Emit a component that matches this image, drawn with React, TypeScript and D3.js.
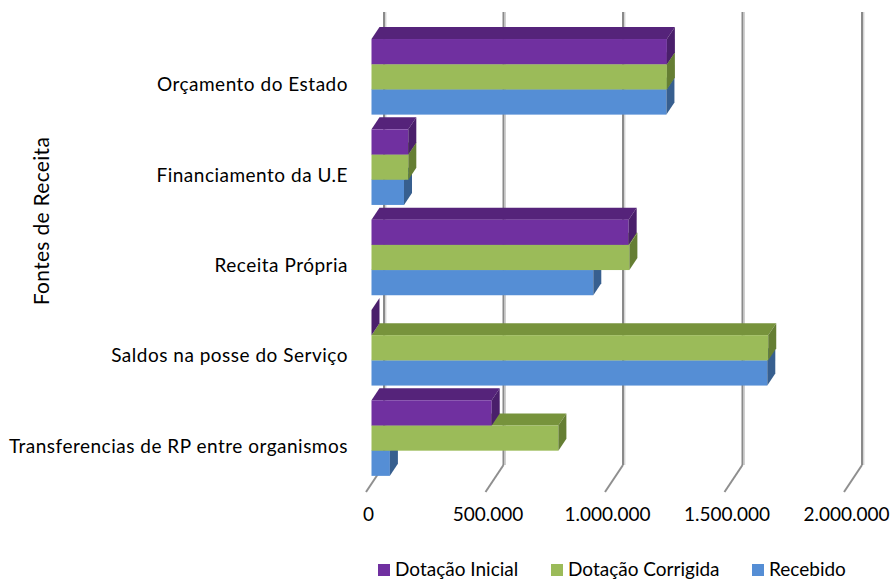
import React from "react";
import * as d3 from "d3";

const categories = [
  "Orçamento do Estado",
  "Financiamento da U.E",
  "Receita Própria",
  "Saldos na posse do Serviço",
  "Transferencias de RP entre organismos",
];
const seriesNames = ["Dotação Inicial", "Dotação Corrigida", "Recebido"];
const dotacaoInicial = [1236000, 154000, 1076000, 0, 503000];
const dotacaoCorrigida = [1236000, 154000, 1079000, 1660000, 782000];
const recebido = [1234000, 136000, 928000, 1656000, 77000];
const tickValues = [0, 500000, 1000000, 1500000, 2000000];
const tickLabels = ["0", "500.000", "1.000.000", "1.500.000", "2.000.000"];
const axisTitle = "Fontes de Receita";

const seriesValues = [dotacaoInicial, dotacaoCorrigida, recebido];
const frontColors = ["#7030A0", "#9BBB59", "#558ED5"];
const topColors = ["#55237A", "#77933C", "#3F6CA5"];
const sideColors = ["#4A1F6B", "#657E33", "#375F8F"];

const W = 890;
const H = 580;
const DX = 8;
const DY = 12;
const WALL_DX = 12.5;
const FONT = "Lato, 'Open Sans', sans-serif";

export default function App() {
  const x = d3.scaleLinear().domain([0, 2000000]).range([371.5, 849.5]);
  const y = d3
    .scaleBand<string>()
    .domain(categories)
    .range([30.9, 484])
    .paddingInner(0.163)
    .paddingOuter(0.09);
  const ys = d3
    .scaleBand<string>()
    .domain(seriesNames)
    .range([0, y.bandwidth()]);

  const gridTop = 12;
  const gridBottom = 465;
  const floorDx = -18;
  const floorDy = 27;

  const bars: React.ReactNode[] = [];
  categories.forEach((cat, ci) => {
    for (let si = seriesNames.length - 1; si >= 0; si--) {
      const v = seriesValues[si][ci];
      const x0 = x(0);
      const x1 = x(v);
      const y0 = (y(cat) as number) + (ys(seriesNames[si]) as number);
      const y1 = y0 + ys.bandwidth();
      const top = `${x0},${y0} ${x0 + DX},${y0 - DY} ${x1 + DX},${y0 - DY} ${x1},${y0}`;
      const side = `${x1},${y0} ${x1 + DX},${y0 - DY} ${x1 + DX},${y1 - DY} ${x1},${y1}`;
      bars.push(
        <g key={`${ci}-${si}`}>
          <polygon points={top} fill={topColors[si]} />
          <rect x={x0} y={y0} width={Math.max(0, x1 - x0)} height={y1 - y0} fill={frontColors[si]} />
          <polygon points={side} fill={sideColors[si]} />
        </g>
      );
    }
  });

  const legendX = [378, 551, 752];
  const legendBase = 575.5;

  return (
    <svg
      width={W}
      height={H}
      viewBox={`0 0 ${W} ${H}`}
      style={{ position: "absolute", left: 0, top: 0, background: "#fff" }}
    >
      <rect x={0} y={0} width={W} height={H} fill="#fff" />
      {/* gridlines */}
      {tickValues.map((t, i) => {
        const xb = x(t) + WALL_DX;
        return (
          <g key={`g${i}`}>
            <line x1={xb} y1={gridTop} x2={xb} y2={gridBottom} stroke="#8a8a8a" strokeWidth={2} />
            <line x1={xb + 1.8} y1={gridTop} x2={xb + 1.8} y2={gridBottom} stroke="#c4c4c4" strokeWidth={1} />
            <line
              x1={xb}
              y1={gridBottom}
              x2={xb + floorDx}
              y2={gridBottom + floorDy}
              stroke="#8f8f8f"
              strokeWidth={2}
            />
          </g>
        );
      })}
      {bars}
      {/* tick labels */}
      {tickValues.map((t, i) => (
        <text
          key={`t${i}`}
          x={x(t) + WALL_DX - 15.5}
          y={521}
          textAnchor="middle"
          fontFamily={FONT}
          fontSize={19}
          fill="#000"
        >
          {tickLabels[i]}
        </text>
      ))}
      {/* category labels */}
      {categories.map((c) => (
        <text
          key={c}
          x={348}
          y={(y(c) as number) + y.bandwidth() / 2 + 14.5}
          textAnchor="end"
          fontFamily={FONT}
          fontSize={19}
          letterSpacing={0.5}
          fill="#000"
        >
          {c}
        </text>
      ))}
      {/* axis title */}
      <text
        transform={`translate(49,221) rotate(-90)`}
        textAnchor="middle"
        fontFamily={FONT}
        fontSize={21}
        letterSpacing={0.3}
        fill="#000"
      >
        {axisTitle}
      </text>
      {/* legend */}
      {seriesNames.map((s, i) => (
        <g key={s}>
          <rect x={legendX[i]} y={legendBase - 11.5} width={12} height={12} fill={frontColors[i]} />
          <text x={legendX[i] + 17} y={legendBase} fontFamily={FONT} fontSize={19} fill="#000">
            {s}
          </text>
        </g>
      ))}
    </svg>
  );
}
